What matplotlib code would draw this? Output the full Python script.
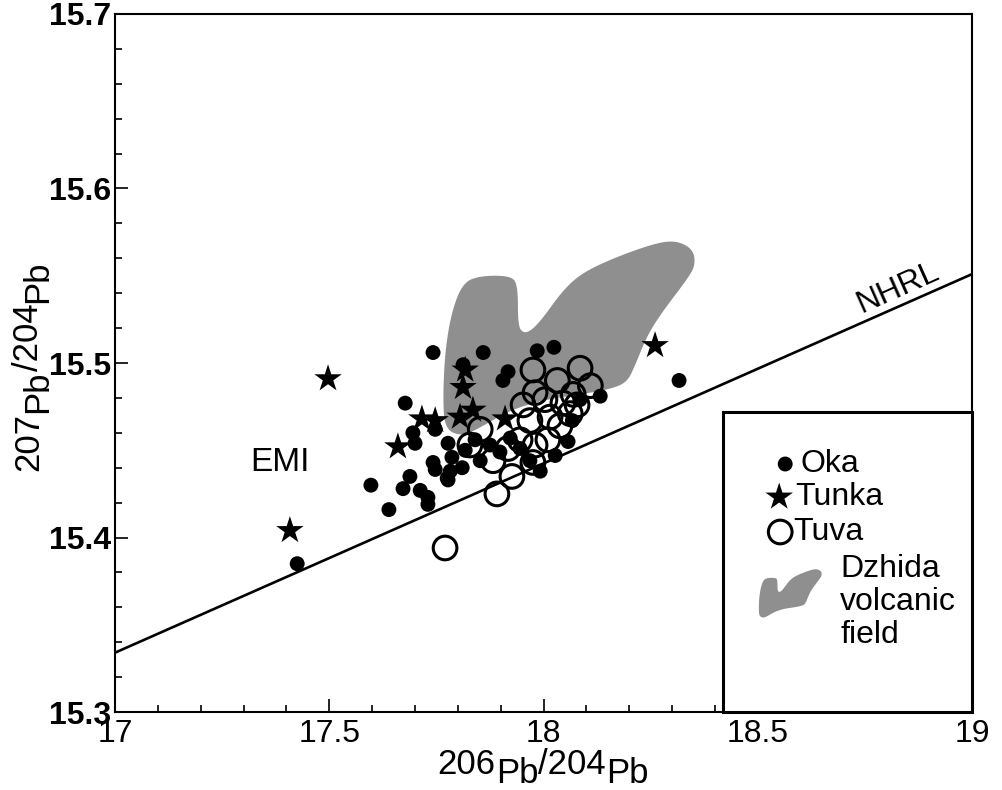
import numpy as np
import matplotlib
matplotlib.use("Agg")
import matplotlib.pyplot as plt
from matplotlib.patches import Polygon, Rectangle
from matplotlib.ticker import MultipleLocator

plt.rcParams['font.family'] = ['Liberation Sans', 'DejaVu Sans']

# Oka (filled dots)
oka_x = [17.742, 17.859, 17.985, 18.024, 17.812, 17.917, 17.905, 17.677, 17.695, 17.700,
         17.597, 17.639, 17.425, 17.742, 17.747, 17.688, 17.672, 17.712, 17.730, 17.730,
         17.777, 17.786, 17.782, 17.775, 17.810, 17.817, 17.840, 17.852, 17.875, 17.898,
         17.922, 17.945, 17.968, 17.992, 18.027, 18.057, 18.067, 18.085, 18.132, 18.316,
         17.777, 17.747]
oka_y = [15.506, 15.506, 15.507, 15.509, 15.499, 15.495, 15.490, 15.477, 15.460, 15.454,
         15.430, 15.416, 15.385, 15.443, 15.439, 15.435, 15.428, 15.427, 15.423, 15.419,
         15.454, 15.446, 15.438, 15.434, 15.440, 15.450, 15.456, 15.444, 15.453, 15.449,
         15.457, 15.451, 15.444, 15.438, 15.447, 15.455, 15.467, 15.479, 15.481, 15.490,
         15.433, 15.462]

# Tunka (stars)
tunka_x = [17.497, 17.408, 18.260, 17.660, 17.716, 17.747, 17.817, 17.812, 17.805, 17.835, 17.910]
tunka_y = [15.491, 15.404, 15.510, 15.452, 15.468, 15.467, 15.496, 15.486, 15.469, 15.473, 15.468]

# Tuva (open circles)
tuva_x = [17.770, 17.891, 17.926, 17.882, 17.975, 17.980, 17.945, 17.917, 18.010, 17.968,
          18.015, 18.038, 18.062, 18.045, 18.078, 18.069, 17.980, 18.032, 17.975, 18.085,
          18.109, 18.003, 17.952, 17.828, 17.852]
tuva_y = [15.394, 15.425, 15.435, 15.444, 15.443, 15.453, 15.456, 15.451, 15.456, 15.467,
          15.469, 15.464, 15.471, 15.477, 15.476, 15.482, 15.483, 15.490, 15.496, 15.497,
          15.487, 15.479, 15.476, 15.453, 15.462]

# Dzhida volcanic field outline
dzhida_x = [17.770, 17.765, 17.770, 17.786, 17.812, 17.852, 17.922, 17.940, 17.940, 17.954,
            17.973, 17.999, 18.046, 18.092, 18.172, 18.265, 18.312, 18.349, 18.354, 18.335,
            18.279, 18.242, 18.214, 18.195, 18.155, 18.085, 18.003, 17.922, 17.852, 17.810]
dzhida_y = [15.462, 15.479, 15.507, 15.530, 15.546, 15.550, 15.550, 15.545, 15.521, 15.517,
            15.519, 15.526, 15.542, 15.552, 15.561, 15.569, 15.570, 15.565, 15.556, 15.548,
            15.530, 15.516, 15.499, 15.489, 15.485, 15.482, 15.479, 15.473, 15.463, 15.458]

# Northern Hemisphere Reference Line
nhrl_x = [17.0, 19.0]
nhrl_y = [15.334, 15.551]


def chaikin(xs, ys, n=3):
    p = np.column_stack([xs, ys])
    for _ in range(n):
        q = np.roll(p, -1, axis=0)
        p = np.column_stack([0.75 * p + 0.25 * q, 0.25 * p + 0.75 * q]).reshape(-1, 2)
    return p


def pieced_label(fig, x, y, parts, size, vertical=False):
    # old-style isotope label: full size "Pb" set lower than the mass number
    rot = 90 if vertical else 0
    first = fig.text(x, y, parts[0][0], fontsize=size, rotation=rot, ha='left', va='bottom')
    prev = first
    arts = [first]
    for txt, shift in parts[1:]:
        if vertical:
            t = plt.annotate(txt, xy=(0, 1), xycoords=prev, xytext=(shift, 0),
                             textcoords='offset points', fontsize=size, rotation=90,
                             ha='left', va='bottom', annotation_clip=False)
        else:
            t = plt.annotate(txt, xy=(1, 0), xycoords=prev, xytext=(0, -shift),
                             textcoords='offset points', fontsize=size,
                             ha='left', va='bottom', annotation_clip=False)
        arts.append(t)
        prev = t
    return first, arts


fig = plt.figure(figsize=(10.02, 7.90), dpi=100)
ax = fig.add_axes([0.1148, 0.0987, 0.8555, 0.8836])

gray = '#8f8f8f'
shape = chaikin(dzhida_x, dzhida_y)
ax.add_patch(Polygon(shape, closed=True, facecolor=gray, edgecolor='none', zorder=1))

ax.plot(nhrl_x, nhrl_y, color='black', linewidth=1.9, zorder=2)

ax.scatter(oka_x, oka_y, s=115, color='black', edgecolors='none', zorder=3)
ax.scatter(tunka_x, tunka_y, s=430, marker='*', color='black', edgecolors='none', zorder=4)
ax.scatter(tuva_x, tuva_y, s=290, marker='o', facecolors='none', edgecolors='black',
           linewidths=2.2, zorder=5)

ax.text(17.385, 15.443, 'EMI', fontsize=24, ha='center', va='center')
ax.text(18.827, 15.543, 'NHRL', fontsize=23, ha='center', va='center', rotation=24)

ax.set_xlim(17, 19)
ax.set_ylim(15.3, 15.7)
ax.xaxis.set_minor_locator(MultipleLocator(0.1))
ax.yaxis.set_minor_locator(MultipleLocator(0.02))
ax.set_xticks([17, 17.5, 18, 18.5, 19])
ax.set_xticklabels(['17', '17.5', '18', '18.5', '19'])
ax.set_yticks([15.3, 15.4, 15.5, 15.6, 15.7])
ax.set_yticklabels(['15.3', '15.4', '15.5', '15.6', '15.7'])
ax.tick_params(which='both', direction='in', top=False, right=False, width=1.2)
ax.tick_params(which='major', length=9.5)
ax.tick_params(which='minor', length=5)
ax.tick_params(axis='x', labelsize=23, pad=5)
ax.tick_params(axis='y', labelsize=23, pad=3)
for lab in ax.get_yticklabels():
    lab.set_fontweight('bold')
for s in ax.spines.values():
    s.set_linewidth(1.5)

# legend box drawn by hand
ax.add_patch(Rectangle((0.7095, 0.0), 0.2905, 0.430, transform=ax.transAxes,
                       facecolor='white', edgecolor='black', linewidth=2.2, zorder=6,
                       clip_on=False))
ax.scatter([0.7818], [0.3553], s=115, color='black', edgecolors='none',
           transform=ax.transAxes, zorder=7)
ax.text(0.7993, 0.3553, 'Oka', transform=ax.transAxes, fontsize=23, va='center', zorder=7)
ax.scatter([0.7748], [0.3080], s=430, marker='*', color='black', edgecolors='none',
           transform=ax.transAxes, zorder=7)
ax.text(0.7935, 0.3080, 'Tunka', transform=ax.transAxes, fontsize=23, va='center', zorder=7)
ax.scatter([0.7760], [0.2579], s=290, marker='o', facecolors='none', edgecolors='black',
           linewidths=2.2, transform=ax.transAxes, zorder=7)
ax.text(0.7911, 0.2579, 'Tuva', transform=ax.transAxes, fontsize=23, va='center', zorder=7)

# small copy of the Dzhida field as legend symbol
sx = (shape[:, 0] - 17) / 2
sy = (shape[:, 1] - 15.3) / 0.4
cx, cy = (sx.min() + sx.max()) / 2, (sy.min() + sy.max()) / 2
k = 0.25
icon = np.column_stack([(sx - cx) * k + 0.7877, (sy - cy) * k + 0.1700])
ax.add_patch(Polygon(icon, closed=True, facecolor=gray, edgecolor='none',
                     transform=ax.transAxes, zorder=7))
ax.text(0.846, 0.1576, 'Dzhida\nvolcanic\nfield', transform=ax.transAxes, fontsize=23,
        va='center', ha='left', linespacing=1.12, zorder=7)

# axis titles
xparts = [('206', 0), ('Pb', 6.5), ('/204', -6.5), ('Pb', 6.5)]
yparts = [('207', 0), ('Pb', 6.5), ('/204', -6.5), ('Pb', 6.5)]
xfirst, xarts = pieced_label(fig, 0.43, 0.012, xparts, 25)
yfirst, yarts = pieced_label(fig, 0.012, 0.33, yparts, 25, vertical=True)

fig.canvas.draw()
r = fig.canvas.get_renderer()
bx = [a.get_window_extent(r) for a in xarts]
left, right = min(b.x0 for b in bx), max(b.x1 for b in bx)
dx = (543 - (left + right) / 2) / fig.bbox.width
xfirst.set_x(xfirst.get_position()[0] + dx)
by = [a.get_window_extent(r) for a in yarts]
bot, top = min(b.y0 for b in by), max(b.y1 for b in by)
dy = ((790 - 366) - (bot + top) / 2) / fig.bbox.height
yfirst.set_y(yfirst.get_position()[1] + dy)

fig.savefig('out.png', dpi=100)
